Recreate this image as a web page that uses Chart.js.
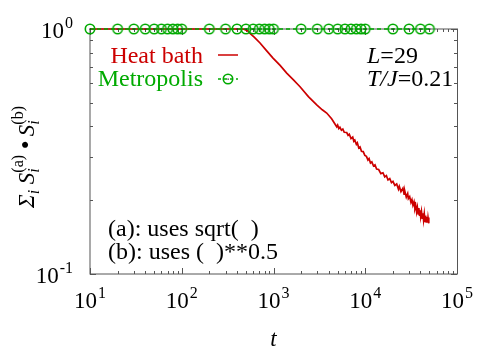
<!DOCTYPE html>
<html>
<head>
<meta charset="utf-8">
<script src="https://cdn.jsdelivr.net/npm/chart.js@4.4.0/dist/chart.umd.min.js"></script>
<style>
	body { margin: 0; background: #ffffff; }
	#wrap { width: 500px; height: 350px; }
</style>
</head>
<body>
<div id="wrap"><canvas id="overlapChart" width="500" height="350"></canvas></div>
<script>
	// Heat bath run: overlap vs time
	var heatBathT = [10, 100, 300, 470, 520, 555, 620, 713, 830, 988, 1180, 1393, 1650, 1946, 2400, 2958, 3400, 3802, 4300, 4887,
		5000, 5150, 5300, 5500, 5700, 5900, 6281, 6500, 6700, 7000, 7300, 7500, 7700, 8000, 8200, 8500, 8770, 9100, 9500, 9900,
		10300, 10700, 11000, 11400, 11800, 12300, 12770, 13300, 14000, 14800, 15600, 16300, 17000, 17700, 18500, 19300,
		20050, 21000, 22000, 23000, 23500, 24500, 25760, 26500, 27000, 28000, 29000, 29500, 30500, 31500, 32300, 33100,
		34000, 34800, 35500, 36300, 37000, 37800, 38400, 39000, 39500, 40200, 41000, 41800, 42500, 43200, 44000, 44800,
		45500, 46200, 47000, 47700, 48300, 49000, 49500];
	var heatBathV = [1, 1, 1, 1, 0.985, 0.96, 0.925, 0.877, 0.82, 0.761, 0.71, 0.661, 0.62, 0.581, 0.53, 0.49, 0.468, 0.454, 0.43, 0.399,
		0.405, 0.392, 0.397, 0.386, 0.39, 0.379, 0.378, 0.368, 0.372, 0.357, 0.362, 0.348, 0.352, 0.338, 0.343, 0.327, 0.33, 0.317, 0.316, 0.305,
		0.302, 0.292, 0.296, 0.284, 0.287, 0.276, 0.279, 0.268, 0.267, 0.257, 0.259, 0.249, 0.252, 0.242, 0.245, 0.236,
		0.239, 0.23, 0.233, 0.222, 0.228, 0.217, 0.224, 0.212, 0.218, 0.206, 0.213, 0.203, 0.207, 0.196, 0.201, 0.191,
		0.197, 0.185, 0.19, 0.179, 0.187, 0.176, 0.186, 0.174, 0.182, 0.171, 0.18, 0.169, 0.177, 0.166, 0.176, 0.164,
		0.173, 0.163, 0.171, 0.162, 0.17, 0.161, 0.167];

	// Metropolis run: stays at 1
	var metropolisT = [10, 20, 30, 40, 50, 60, 70, 80, 90,
		100, 200, 300, 400, 500, 600, 700, 800, 900,
		1000, 2000, 3000, 4000, 5000, 6000, 7000, 8000, 9000,
		10000, 20000, 30000, 40000, 50000];
	var metropolisV = [1, 1, 1, 1, 1, 1, 1, 1, 1,
		1, 1, 1, 1, 1, 1, 1, 1, 1,
		1, 1, 1, 1, 1, 1, 1, 1, 1,
		1, 1, 1, 1, 1];

	// axis ticks (exponents of 10)
	var xTickExp = [1, 2, 3, 4, 5];
	var yTickExp = [-1, 0];

	var redColor = '#cc0000';
	var greenColor = '#00aa00';
	var serif = '"Liberation Serif", "DejaVu Serif", serif';

	/**
	 * Open circle with a dot in the middle (gnuplot style point)
	 */
	function makeCirclePoint() {
		var c = document.createElement('canvas');
		c.width = 14;
		c.height = 14;
		var g = c.getContext('2d');
		g.strokeStyle = greenColor;
		g.lineWidth = 1.6;
		g.beginPath();
		g.arc(7, 7, 4.7, 0, Math.PI * 2);
		g.stroke();
		g.fillStyle = '#222222';
		g.fillRect(6.5, 6.5, 1.3, 1.3);
		return c;
	}
	var circlePoint = makeCirclePoint();

	function toPoints(xs, ys) {
		var pts = [];
		xs.forEach(function (x, i) {
			pts.push({ x: x, y: ys[i] });
		});
		return pts;
	}

	/**
	 * draw "10" with a raised exponent
	 */
	function drawPower(ctx, exp, x, y, align) {
		ctx.font = '23px ' + serif;
		var baseW = ctx.measureText('10').width;
		ctx.font = '16px ' + serif;
		var expW = ctx.measureText(String(exp)).width;
		var total = baseW + expW + 1;
		var left = x;
		if (align == 'center') left = x - total / 2;
		if (align == 'right') left = x - total;
		ctx.textAlign = 'left';
		ctx.textBaseline = 'alphabetic';
		ctx.font = '23px ' + serif;
		ctx.fillText('10', left, y);
		ctx.font = '16px ' + serif;
		ctx.fillText(String(exp), left + baseW + 1, y - 10);
	}

	// text pieces of the y axis title: [text, italic, size, raise, sits over subscript]
	function yTitlePieces() {
		return [
			['Σ', true, 23, 0],
			['i', true, 16, -5],
			[' S', true, 23, 0],
			['i', true, 16, -5],
			['(a)', false, 16, 11, true],
			[' ', false, 23, 0],
			['●', false, 14, 5],
			[' ', false, 18, 0],
			['S', true, 23, 0],
			['i', true, 16, -5],
			['(b)', false, 16, 11, true]
		];
	}

	var framePlugin = {
		id: 'framePlugin',
		beforeDatasetsDraw: function (chart) {
			var ctx = chart.ctx;
			var a = chart.chartArea;
			var xs = chart.scales.x;
			var ys = chart.scales.y;
			ctx.save();

			// border
			ctx.strokeStyle = '#555555';
			ctx.lineWidth = 1;
			ctx.strokeRect(a.left, a.top, a.right - a.left + 0.5, a.bottom - a.top);

			// x ticks (inward, mirrored on top)
			xTickExp.forEach(function (e) {
				for (var m = 1; m <= 9; m++) {
					var v = m * Math.pow(10, e);
					if (v > 100000) break;
					var px = Math.round(xs.getPixelForValue(v)) + 0.5;
					var len = (m == 1) ? 6 : 3;
					ctx.beginPath();
					ctx.moveTo(px, a.bottom);
					ctx.lineTo(px, a.bottom - len);
					ctx.moveTo(px, a.top);
					ctx.lineTo(px, a.top + len);
					ctx.stroke();
				}
			});
			// y ticks
			for (var m = 1; m <= 10; m++) {
				var v = m * 0.1;
				var py = Math.round(ys.getPixelForValue(v)) + 0.5;
				var len = (m == 1 || m == 10) ? 6 : 3;
				ctx.beginPath();
				ctx.moveTo(a.left, py);
				ctx.lineTo(a.left + len, py);
				ctx.moveTo(a.right, py);
				ctx.lineTo(a.right - len, py);
				ctx.stroke();
			}
			ctx.restore();
		},
		afterDraw: function (chart) {
			var ctx = chart.ctx;
			var a = chart.chartArea;
			var xs = chart.scales.x;
			var ys = chart.scales.y;
			ctx.save();

			// tick labels
			ctx.fillStyle = '#000000';
			xTickExp.forEach(function (e) {
				drawPower(ctx, e, xs.getPixelForValue(Math.pow(10, e)), a.bottom + 34, 'center');
			});
			yTickExp.forEach(function (e) {
				drawPower(ctx, e, a.left - 17, ys.getPixelForValue(Math.pow(10, e)) + 9, 'right');
			});

			// x title
			ctx.font = 'italic 23px ' + serif;
			ctx.textAlign = 'center';
			ctx.fillText('t', (a.left + a.right) / 2, 346);

			// y title, rotated
			var pieces = yTitlePieces();
			ctx.save();
			ctx.translate(34, 157);
			ctx.rotate(-Math.PI / 2);
			ctx.textAlign = 'left';
			var widths = [];
			var total = 0;
			var lastSubW = 0;
			pieces.forEach(function (p, i) {
				ctx.font = (p[1] ? 'italic ' : '') + p[2] + 'px ' + serif;
				var w = ctx.measureText(p[0]).width;
				widths.push(w);
				total += w;
				if (p[3] < 0) lastSubW = w;
				if (p[4]) total -= lastSubW;
			});
			var cx = -total / 2;
			lastSubW = 0;
			pieces.forEach(function (p, i) {
				ctx.font = (p[1] ? 'italic ' : '') + p[2] + 'px ' + serif;
				var drawX = cx;
				// superscript sits above the subscript
				if (p[4]) drawX = cx - lastSubW;
				ctx.fillText(p[0], drawX, -p[3]);
				if (p[3] < 0) lastSubW = widths[i];
				cx = drawX + widths[i];
			});
			ctx.restore();

			// legend
			ctx.textAlign = 'right';
			ctx.font = '24px ' + serif;
			ctx.fillStyle = redColor;
			ctx.fillText('Heat bath', 203, 63);
			ctx.fillStyle = greenColor;
			ctx.fillText('Metropolis', 203, 86);
			ctx.strokeStyle = redColor;
			ctx.lineWidth = 1.5;
			ctx.beginPath();
			ctx.moveTo(218, 55);
			ctx.lineTo(238, 55);
			ctx.stroke();
			ctx.strokeStyle = greenColor;
			ctx.setLineDash([3, 3]);
			ctx.beginPath();
			ctx.moveTo(218, 79);
			ctx.lineTo(238, 79);
			ctx.stroke();
			ctx.setLineDash([]);
			ctx.drawImage(circlePoint, 228 - 7, 79 - 7);

			// run parameters
			ctx.textAlign = 'left';
			ctx.fillStyle = '#000000';
			ctx.font = 'italic 24px ' + serif;
			var lw = ctx.measureText('L').width;
			ctx.fillText('L', 367, 63);
			ctx.font = '24px ' + serif;
			ctx.fillText('=29', 367 + lw, 63);
			ctx.font = 'italic 24px ' + serif;
			var tw = ctx.measureText('T/J').width;
			ctx.fillText('T/J', 367, 86);
			ctx.font = '24px ' + serif;
			ctx.fillText('=0.21', 367 + tw, 86);

			// notes
			ctx.fillText('(a): uses sqrt(  )', 108, 236);
			ctx.fillText('(b): uses (  )**0.5', 108, 259);

			ctx.restore();
		}
	};

	var ctx = document.getElementById('overlapChart').getContext('2d');
	var overlapChart = new Chart(ctx, {
		type: 'line',
		data: {
			datasets: [{
				label: 'Metropolis',
				data: toPoints(metropolisT, metropolisV),
				borderColor: greenColor,
				borderWidth: 1.3,
				borderDash: [4, 3],
				pointStyle: circlePoint,
				pointRadius: 5,
				fill: false,
				clip: false,
				order: 0
			}, {
				label: 'Heat bath',
				data: toPoints(heatBathT, heatBathV),
				borderColor: redColor,
				borderWidth: 1.7,
				pointRadius: 0,
				tension: 0,
				fill: false,
				clip: false,
				order: 1
			}]
		},
		options: {
			responsive: false,
			animation: false,
			layout: {
				padding: { left: 90, right: 43, top: 29, bottom: 76 }
			},
			plugins: {
				legend: { display: false },
				tooltip: { enabled: false }
			},
			scales: {
				x: {
					type: 'logarithmic',
					min: 10,
					max: 100000,
					display: false
				},
				y: {
					type: 'logarithmic',
					min: 0.1,
					max: 1,
					display: false
				}
			}
		},
		plugins: [framePlugin]
	});
</script>
</body>
</html>
